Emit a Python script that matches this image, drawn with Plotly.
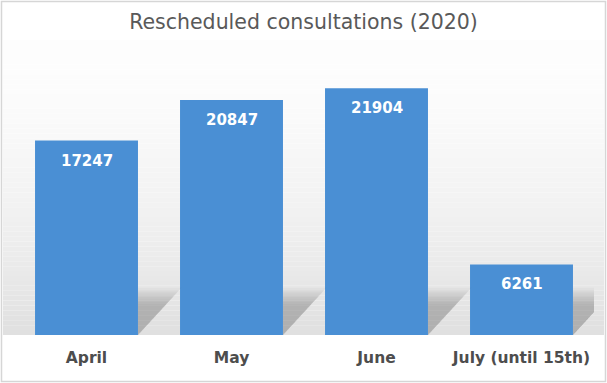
import plotly.graph_objects as go

categories = ["April", "May", "June", "July (until 15th)"]
values = [17247, 20847, 21904, 6261]
title_text = "Rescheduled consultations (2020)"

W, H = 607, 383
ml, mr, mt, mb = 14, 13, 60, 48
ymax = 24400

fig = go.Figure()

xs = list(range(len(categories)))
half = 0.355

# soft floor shadows to the right of each bar (derived from bar positions)
shadow_h = 4200
nl = 8
for i in xs:
    for k in range(nl):
        f = k / (nl - 1)
        hf = 1.0 - 0.35 * f
        ext = 0.30 * hf
        fig.add_trace(go.Scatter(
            x=[i + half, i + half + ext, i + half, i + half],
            y=[shadow_h * hf, shadow_h * hf, 0, shadow_h * hf],
            fill="toself", mode="lines", line=dict(width=0),
            fillcolor="rgba(80,80,80,0.045)", hoverinfo="skip", showlegend=False,
        ))

fig.add_trace(go.Bar(
    x=xs, y=values, width=0.71,
    marker=dict(color="#4a8fd4", line=dict(width=0)),
    showlegend=False, hoverinfo="skip",
))

for i, v in zip(xs, values):
    fig.add_annotation(
        x=i, y=v, xref="x", yref="y", text=f"<b>{v}</b>", showarrow=False,
        yanchor="top", yshift=-9,
        font=dict(family="DejaVu Sans", size=15, color="white"),
    )

# background gradient
pw = W - ml - mr
ph = H - mt - mb
x0p = -ml / pw + 3 / pw
x1p = 1 + mr / pw - 3 / pw
top_px, bot_px = 40, 335
n = 60
for j in range(n):
    ya = top_px + (bot_px - top_px) * j / n
    yb = top_px + (bot_px - top_px) * (j + 1) / n
    t = (j + 0.5) / n
    c = int(254 - 30 * t ** 1.6)
    fig.add_shape(type="rect", xref="paper", yref="paper",
                  x0=x0p, x1=x1p,
                  y0=(H - mb - yb) / ph, y1=(H - mb - ya) / ph,
                  fillcolor=f"rgb({c},{c},{c})", line=dict(width=0), layer="below")

# border
bx0, by0, bx1, by1 = 1.5, 1.5, 605.5, 381.5
fig.add_shape(type="rect", xref="paper", yref="paper",
              x0=(bx0 - ml) / pw, x1=(bx1 - ml) / pw,
              y0=(H - mb - by1) / ph, y1=(H - mb - by0) / ph,
              line=dict(color="#d6d6d6", width=1.5), fillcolor="rgba(0,0,0,0)", layer="above")

fig.update_layout(
    width=W, height=H,
    margin=dict(l=ml, r=mr, t=mt, b=mb),
    paper_bgcolor="white", plot_bgcolor="rgba(0,0,0,0)",
    title=dict(text=title_text, x=0.5, xanchor="center", y=1 - 22 / H, yanchor="middle",
               font=dict(family="DejaVu Sans", size=20.5, color="#595959")),
    xaxis=dict(range=[-0.5, 3.5], tickvals=xs, ticktext=[f"<b>{c}</b>" for c in categories],
               showgrid=False, zeroline=False, showline=False, ticks="",
               tickfont=dict(family="DejaVu Sans", size=15.5, color="#4d4d4d"),
               ticklabelstandoff=11),
    yaxis=dict(range=[0, ymax], visible=False, showgrid=False, zeroline=False),
    bargap=0.29,
)

fig.write_html("out.html", config={"displayModeBar": False},
               post_script="document.body.style.margin='0';document.body.style.overflow='hidden';")
